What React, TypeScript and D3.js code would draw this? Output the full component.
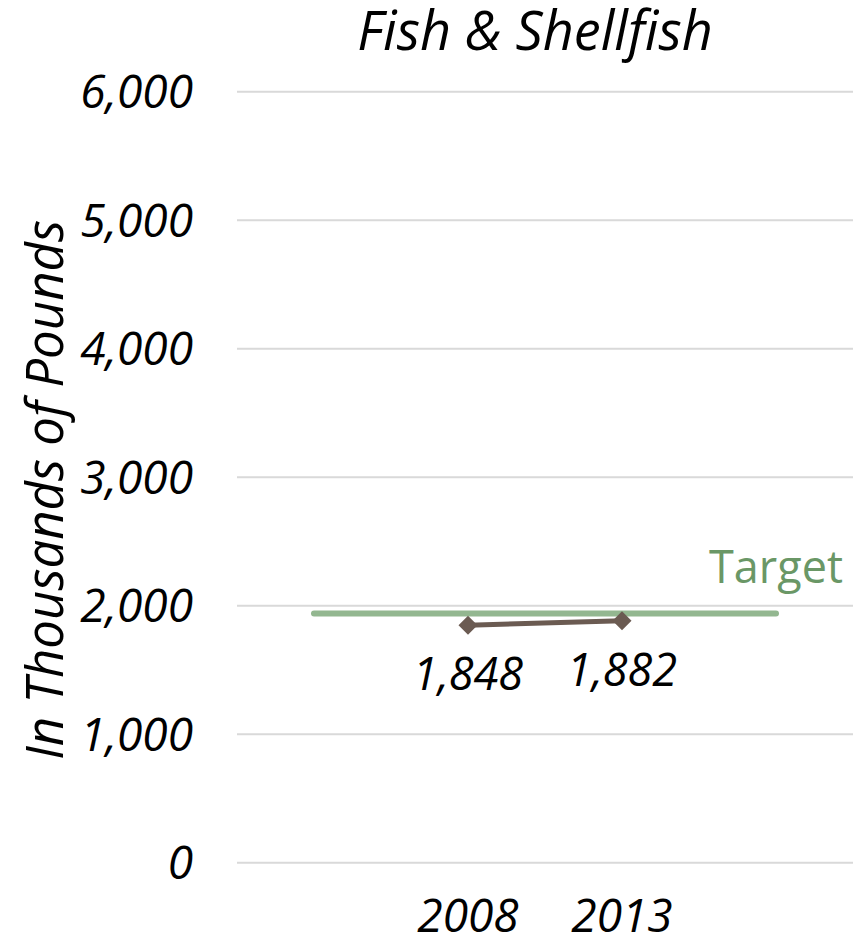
import React from "react";
import * as d3 from "d3";

const categories = ["", "2008", "2013", " "];
const seriesYears = ["2008", "2013"];
const seriesValues = [1848, 1882];
const targetValue = 1940;
const yTicks = [0, 1000, 2000, 3000, 4000, 5000, 6000];
const title = "Fish & Shellfish";
const yTitle = "In Thousands of Pounds";
const targetLabel = "Target";

const W = 864;
const H = 938;
const FONT = "'Open Sans', 'Noto Sans', sans-serif";

export default function App() {
  const x = d3.scaleBand<string>().domain(categories).range([237, 853]);
  const y = d3.scaleLinear().domain([0, 6000]).range([862.7, 91.7]);
  const cx = (c: string) => (x(c) as number) + x.bandwidth() / 2;
  const fmt = d3.format(",");
  const line = d3
    .line<number>()
    .x((_, i) => cx(seriesYears[i]))
    .y((d) => y(d));
  const diamond = d3.symbol(d3.symbolDiamond2, 230)();

  return (
    <svg
      width={W}
      height={H}
      style={{ position: "absolute", left: 0, top: 0 }}
      fontFamily={FONT}
      fontStyle="italic"
    >
      <rect width={W} height={H} fill="#fff" />
      <text x={535} y={50} textAnchor="middle" fontSize={54} fill="#000">
        {title}
      </text>
      {yTicks.map((t) => (
        <g key={t}>
          <line x1={237} x2={853} y1={y(t)} y2={y(t)} stroke="#d9d9d9" strokeWidth={2} />
          <text x={193} y={y(t)} dy="0.36em" textAnchor="end" fontSize={46} fill="#000">
            {fmt(t)}
          </text>
        </g>
      ))}
      <text
        transform={`translate(63,490) rotate(-90)`}
        textAnchor="middle"
        fontSize={51}
        fill="#000"
      >
        {yTitle}
      </text>
      <line
        x1={cx(categories[0])}
        x2={cx(categories[3])}
        y1={y(targetValue)}
        y2={y(targetValue)}
        stroke="#93b790"
        strokeWidth={6}
        strokeLinecap="round"
      />
      <text x={843} y={583} textAnchor="end" fontSize={45} fontStyle="normal" fill="#6a9766">
        {targetLabel}
      </text>
      <path d={line(seriesValues) || ""} fill="none" stroke="#6b5b52" strokeWidth={5} />
      {seriesValues.map((v, i) => (
        <g key={i}>
          <path
            d={diamond || ""}
            transform={`translate(${cx(seriesYears[i])},${y(v)})`}
            fill="#6b5b52"
          />
          <text
            x={cx(seriesYears[i])}
            y={y(v) + 65}
            textAnchor="middle"
            fontSize={45}
            fill="#000"
          >
            {fmt(v)}
          </text>
        </g>
      ))}
      {seriesYears.map((c) => (
        <text key={c} x={cx(c)} y={932} textAnchor="middle" fontSize={46} fill="#000">
          {c}
        </text>
      ))}
    </svg>
  );
}
